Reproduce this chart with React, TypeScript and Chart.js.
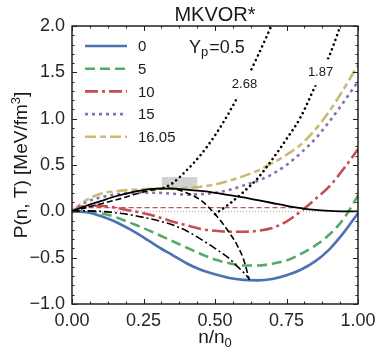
import React, { useEffect, useRef } from "react";
import { Chart, registerables } from "chart.js";

Chart.register(...registerables);

const FONT = "'Liberation Sans', Arial, Helvetica, sans-serif";

// Isotherm grid (n/n0)
const xGrid = [0, 0.05, 0.1, 0.15, 0.2, 0.25, 0.3, 0.35, 0.4, 0.45, 0.5, 0.55, 0.6, 0.65, 0.7, 0.75, 0.8, 0.85, 0.9, 0.95, 1.0];

// Isotherms P(n,T) [MeV/fm^3]
const pT0 = [0, -0.01, -0.05, -0.11, -0.19, -0.28, -0.38, -0.47, -0.56, -0.63, -0.68, -0.72, -0.74, -0.745, -0.73, -0.69, -0.63, -0.54, -0.41, -0.23, -0.02];
const pT5 = [0, 0.0, -0.02, -0.06, -0.12, -0.18, -0.25, -0.32, -0.39, -0.46, -0.52, -0.56, -0.585, -0.585, -0.565, -0.53, -0.46, -0.37, -0.25, -0.08, 0.17];
const pT10 = [0, 0.06, 0.06, 0.04, 0.01, -0.02, -0.06, -0.11, -0.15, -0.19, -0.21, -0.22, -0.22, -0.21, -0.18, -0.11, 0.0, 0.13, 0.27, 0.46, 0.67];
const pT15 = [0, 0.1, 0.15, 0.18, 0.195, 0.2, 0.2, 0.19, 0.18, 0.185, 0.2, 0.23, 0.28, 0.33, 0.4, 0.5, 0.63, 0.78, 0.97, 1.18, 1.4];
const pT1605 = [0, 0.12, 0.19, 0.215, 0.23, 0.24, 0.245, 0.25, 0.255, 0.265, 0.29, 0.33, 0.38, 0.44, 0.52, 0.61, 0.72, 0.88, 1.08, 1.32, 1.58];

const tempLabels = ["0", "5", "10", "15", "16.05"];

// Black solid curve
const solidX = [0, 0.05, 0.1, 0.15, 0.2, 0.25, 0.3, 0.35, 0.4, 0.45, 0.5, 0.55, 0.6, 0.65, 0.7, 0.75, 0.8, 0.85, 0.9, 0.95, 1.0];
const solidY = [0, 0.06, 0.11, 0.16, 0.2, 0.23, 0.245, 0.245, 0.235, 0.22, 0.2, 0.175, 0.15, 0.12, 0.09, 0.06, 0.035, 0.015, 0.005, 0.0, 0.0];

// Black dashed curve (spinodal)
const spinX = [0, 0.05, 0.1, 0.15, 0.2, 0.25, 0.3, 0.33, 0.36, 0.4, 0.45, 0.5, 0.55, 0.58, 0.6, 0.62];
const spinY = [0, 0.04, 0.08, 0.12, 0.165, 0.21, 0.24, 0.25, 0.24, 0.2, 0.12, -0.03, -0.23, -0.38, -0.52, -0.74];

// Black dash-dot curve
const ddX = [0, 0.05, 0.1, 0.15, 0.2, 0.25, 0.3, 0.35, 0.4, 0.45, 0.5, 0.55, 0.58, 0.6, 0.62];
const ddY = [0, 0.005, 0.0, -0.015, -0.035, -0.065, -0.1, -0.145, -0.21, -0.3, -0.4, -0.51, -0.6, -0.66, -0.73];

// Black dotted curves labelled 2.68 and 1.87
const dotAX = [0.32, 0.35, 0.4, 0.45, 0.5, 0.55, 0.6, 0.65, 0.7];
const dotAY = [0.25, 0.3, 0.44, 0.61, 0.82, 1.07, 1.36, 1.68, 2.02];
const dotBX = [0.5, 0.55, 0.6, 0.65, 0.7, 0.75, 0.8, 0.85, 0.9, 0.95];
const dotBY = [-0.03, 0.08, 0.21, 0.36, 0.56, 0.78, 1.02, 1.35, 1.68, 2.1];

// Inline labels of the dotted curves: text, centre n/n0, centre P
const curveLabels = ["2.68", "1.87"];
const curveLabelX = [0.603, 0.869];
const curveLabelY = [1.37, 1.5];

// Thin red dashed line (T = 10) and zero line
const maxwellX = [0.03, 0.81];
const maxwellY = [0.04, 0.04];
const zeroX = [0, 1];
const zeroY = [0, 0];

// Shaded box
const boxX = [0.314, 0.438];
const boxY = [0.24, 0.37];

const xTicks = [0, 0.25, 0.5, 0.75, 1.0];
const yTicks = [-1, -0.5, 0, 0.5, 1, 1.5, 2];

const colors = ["#4C72B0", "#55A868", "#C44E52", "#8172B2", "#CCB974"];
const dashes: number[][] = [[], [10, 5], [13, 4, 3, 4], [3, 4], [11, 4, 6, 4]];

const pts = (xs: number[], ys: number[]) => xs.map((x, i) => ({ x, y: ys[i] }));

const decor = {
  id: "decor",
  beforeDatasetsDraw(chart: any) {
    const { ctx, scales } = chart;
    const x = scales.x, y = scales.y;
    ctx.save();
    ctx.fillStyle = "#d2d2d2";
    const x0 = x.getPixelForValue(boxX[0]);
    const x1 = x.getPixelForValue(boxX[1]);
    const y0 = y.getPixelForValue(boxY[1]);
    const y1 = y.getPixelForValue(boxY[0]);
    ctx.fillRect(x0, y0, x1 - x0, y1 - y0);
    ctx.restore();
  },
  afterDraw(chart: any) {
    const { ctx, chartArea: a, scales } = chart;
    const x = scales.x, y = scales.y;
    ctx.save();

    // inline curve labels (line removed under the label)
    ctx.font = `13px ${FONT}`;
    ctx.textAlign = "center";
    ctx.textBaseline = "middle";
    for (let i = 0; i < curveLabels.length; i++) {
      const cx = x.getPixelForValue(curveLabelX[i]);
      const cyl = y.getPixelForValue(curveLabelY[i]);
      const w = ctx.measureText(curveLabels[i]).width;
      ctx.fillStyle = "#fff";
      ctx.fillRect(cx - w / 2 - 2, cyl - 13, w + 4, 26);
      ctx.fillStyle = "#1a1a1a";
      ctx.fillText(curveLabels[i], cx, cyl);
    }

    // frame
    ctx.strokeStyle = "#000";
    ctx.lineWidth = 1.3;
    ctx.setLineDash([]);
    ctx.strokeRect(a.left, a.top, a.right - a.left, a.bottom - a.top);
    // ticks
    ctx.strokeStyle = "#222";
    ctx.lineWidth = 1;
    const tick = (px: number, py: number, dx: number, dy: number) => {
      ctx.beginPath();
      ctx.moveTo(px, py);
      ctx.lineTo(px + dx, py + dy);
      ctx.stroke();
    };
    for (let i = 0; i <= 16; i++) {
      const v = i * 0.0625;
      const px = Math.round(x.getPixelForValue(v)) + 0.5;
      const len = i % 4 === 0 ? 5 : 2.5;
      tick(px, a.bottom, 0, -len);
      tick(px, a.top, 0, len);
    }
    for (let i = 0; i <= 30; i++) {
      const v = -1 + i * 0.1;
      const py = Math.round(y.getPixelForValue(v)) + 0.5;
      const len = i % 5 === 0 ? 5 : 2.5;
      tick(a.left, py, len, 0);
      tick(a.right, py, -len, 0);
    }

    ctx.fillStyle = "#1a1a1a";
    ctx.textBaseline = "alphabetic";
    // title
    ctx.font = `20px ${FONT}`;
    ctx.textAlign = "center";
    ctx.fillText("MKVOR*", (a.left + a.right) / 2, 21);

    // x axis title n/n0
    ctx.textAlign = "left";
    ctx.font = `19px ${FONT}`;
    const main = "n/n";
    const wMain = ctx.measureText(main).width;
    ctx.font = `13px ${FONT}`;
    const wSub = ctx.measureText("0").width;
    const sx = (a.left + a.right) / 2 - (wMain + wSub) / 2;
    ctx.font = `19px ${FONT}`;
    ctx.fillText(main, sx, 343);
    ctx.font = `13px ${FONT}`;
    ctx.fillText("0", sx + wMain, 347);

    // y axis title
    ctx.save();
    const cy = (a.top + a.bottom) / 2;
    ctx.translate(27, cy);
    ctx.rotate(-Math.PI / 2);
    ctx.font = `19px ${FONT}`;
    const p1 = "P(n, T) [MeV/fm";
    const p3 = "]";
    const w1 = ctx.measureText(p1).width;
    const w3 = ctx.measureText(p3).width;
    ctx.font = `13px ${FONT}`;
    const w2 = ctx.measureText("3").width;
    const tx = -(w1 + w2 + w3) / 2;
    ctx.font = `19px ${FONT}`;
    ctx.fillText(p1, tx, 0);
    ctx.font = `13px ${FONT}`;
    ctx.fillText("3", tx + w1, -7);
    ctx.font = `19px ${FONT}`;
    ctx.fillText(p3, tx + w1 + w2, 0);
    ctx.restore();

    // Y_p = 0.5
    const yx = x.getPixelForValue(0.409);
    const yy = y.getPixelForValue(1.71);
    ctx.font = `18px ${FONT}`;
    ctx.fillText("Y", yx, yy);
    const wy = ctx.measureText("Y").width;
    ctx.font = `13px ${FONT}`;
    ctx.fillText("p", yx + wy, yy + 3);
    const wp = ctx.measureText("p").width;
    ctx.font = `18px ${FONT}`;
    ctx.fillText("=0.5", yx + wy + wp + 1, yy);

    // legend
    const lx0 = a.left + 13;
    const lx1 = lx0 + 42;
    for (let i = 0; i < tempLabels.length; i++) {
      const ly = a.top + 20 + i * 22.7;
      ctx.strokeStyle = colors[i];
      ctx.lineWidth = 2.6;
      ctx.lineCap = "butt";
      ctx.setLineDash(dashes[i]);
      ctx.beginPath();
      ctx.moveTo(lx0, ly);
      ctx.lineTo(lx1, ly);
      ctx.stroke();
      ctx.setLineDash([]);
      ctx.fillStyle = "#1a1a1a";
      ctx.font = `15px ${FONT}`;
      ctx.textBaseline = "middle";
      ctx.fillText(tempLabels[i], lx1 + 11, ly + 1);
    }
    ctx.restore();
  },
};

export default function App() {
  const ref = useRef<HTMLCanvasElement | null>(null);
  useEffect(() => {
    if (!ref.current) return;
    const series = [pT0, pT5, pT10, pT15, pT1605];
    const datasets: any[] = [];
    series.forEach((s, i) => {
      datasets.push({
        label: tempLabels[i],
        data: pts(xGrid, s),
        borderColor: colors[i],
        borderWidth: 2.6,
        borderDash: dashes[i],
        cubicInterpolationMode: "monotone",
        order: 2,
      });
    });
    datasets.push({ data: pts(maxwellX, maxwellY), borderColor: colors[2], borderWidth: 1.3, borderDash: [5, 3], order: 1 });
    datasets.push({ data: pts(zeroX, zeroY), borderColor: "#8a8a8a", borderWidth: 0.8, borderDash: [1, 2], order: 3 });
    datasets.push({ data: pts(solidX, solidY), borderColor: "#000", borderWidth: 1.8, cubicInterpolationMode: "monotone", order: 0 });
    datasets.push({ data: pts(spinX, spinY), borderColor: "#000", borderWidth: 1.6, borderDash: [6, 3], cubicInterpolationMode: "monotone", order: 0 });
    datasets.push({ data: pts(ddX, ddY), borderColor: "#000", borderWidth: 1.6, borderDash: [8, 3, 2, 3], cubicInterpolationMode: "monotone", order: 0 });
    datasets.push({ data: pts(dotAX, dotAY), borderColor: "#000", borderWidth: 2.6, borderDash: [0.01, 5], borderCapStyle: "round", cubicInterpolationMode: "monotone", order: 0 });
    datasets.push({ data: pts(dotBX, dotBY), borderColor: "#000", borderWidth: 2.6, borderDash: [0.01, 5], borderCapStyle: "round", cubicInterpolationMode: "monotone", order: 0 });

    const tickFont = { size: 18, family: FONT };
    const chart = new Chart(ref.current, {
      type: "line",
      data: { datasets },
      options: {
        animation: false,
        responsive: false,
        maintainAspectRatio: false,
        layout: { padding: { top: 26, right: 25, left: 0, bottom: 0 } },
        plugins: { legend: { display: false }, tooltip: { enabled: false }, title: { display: false } },
        elements: { point: { radius: 0 }, line: { fill: false } },
        scales: {
          x: {
            type: "linear",
            min: 0,
            max: 1,
            grid: { display: false, drawTicks: false },
            border: { display: false },
            afterBuildTicks: (s: any) => { s.ticks = xTicks.map((v) => ({ value: v })); },
            ticks: {
              autoSkip: false,
              maxRotation: 0,
              padding: 6,
              color: "#262626",
              font: tickFont,
              callback: (v: any) => Number(v).toFixed(2),
            },
            afterFit: (s: any) => { s.height = 51; },
          },
          y: {
            type: "linear",
            min: -1,
            max: 2,
            grid: { display: false, drawTicks: false },
            border: { display: false },
            afterBuildTicks: (s: any) => { s.ticks = yTicks.map((v) => ({ value: v })); },
            ticks: {
              autoSkip: false,
              padding: 7,
              color: "#262626",
              font: tickFont,
              callback: (v: any) => {
                const n = Number(v);
                return (n < 0 ? "\u2212" : "") + Math.abs(n).toFixed(1);
              },
            },
            afterFit: (s: any) => { s.width = 72; },
          },
        },
      },
      plugins: [decor],
    } as any);
    return () => chart.destroy();
  }, []);
  return (
    <div style={{ position: "fixed", left: 0, top: 0, width: 383, height: 355, background: "#fff" }}>
      <canvas ref={ref} width={383} height={355} />
    </div>
  );
}
